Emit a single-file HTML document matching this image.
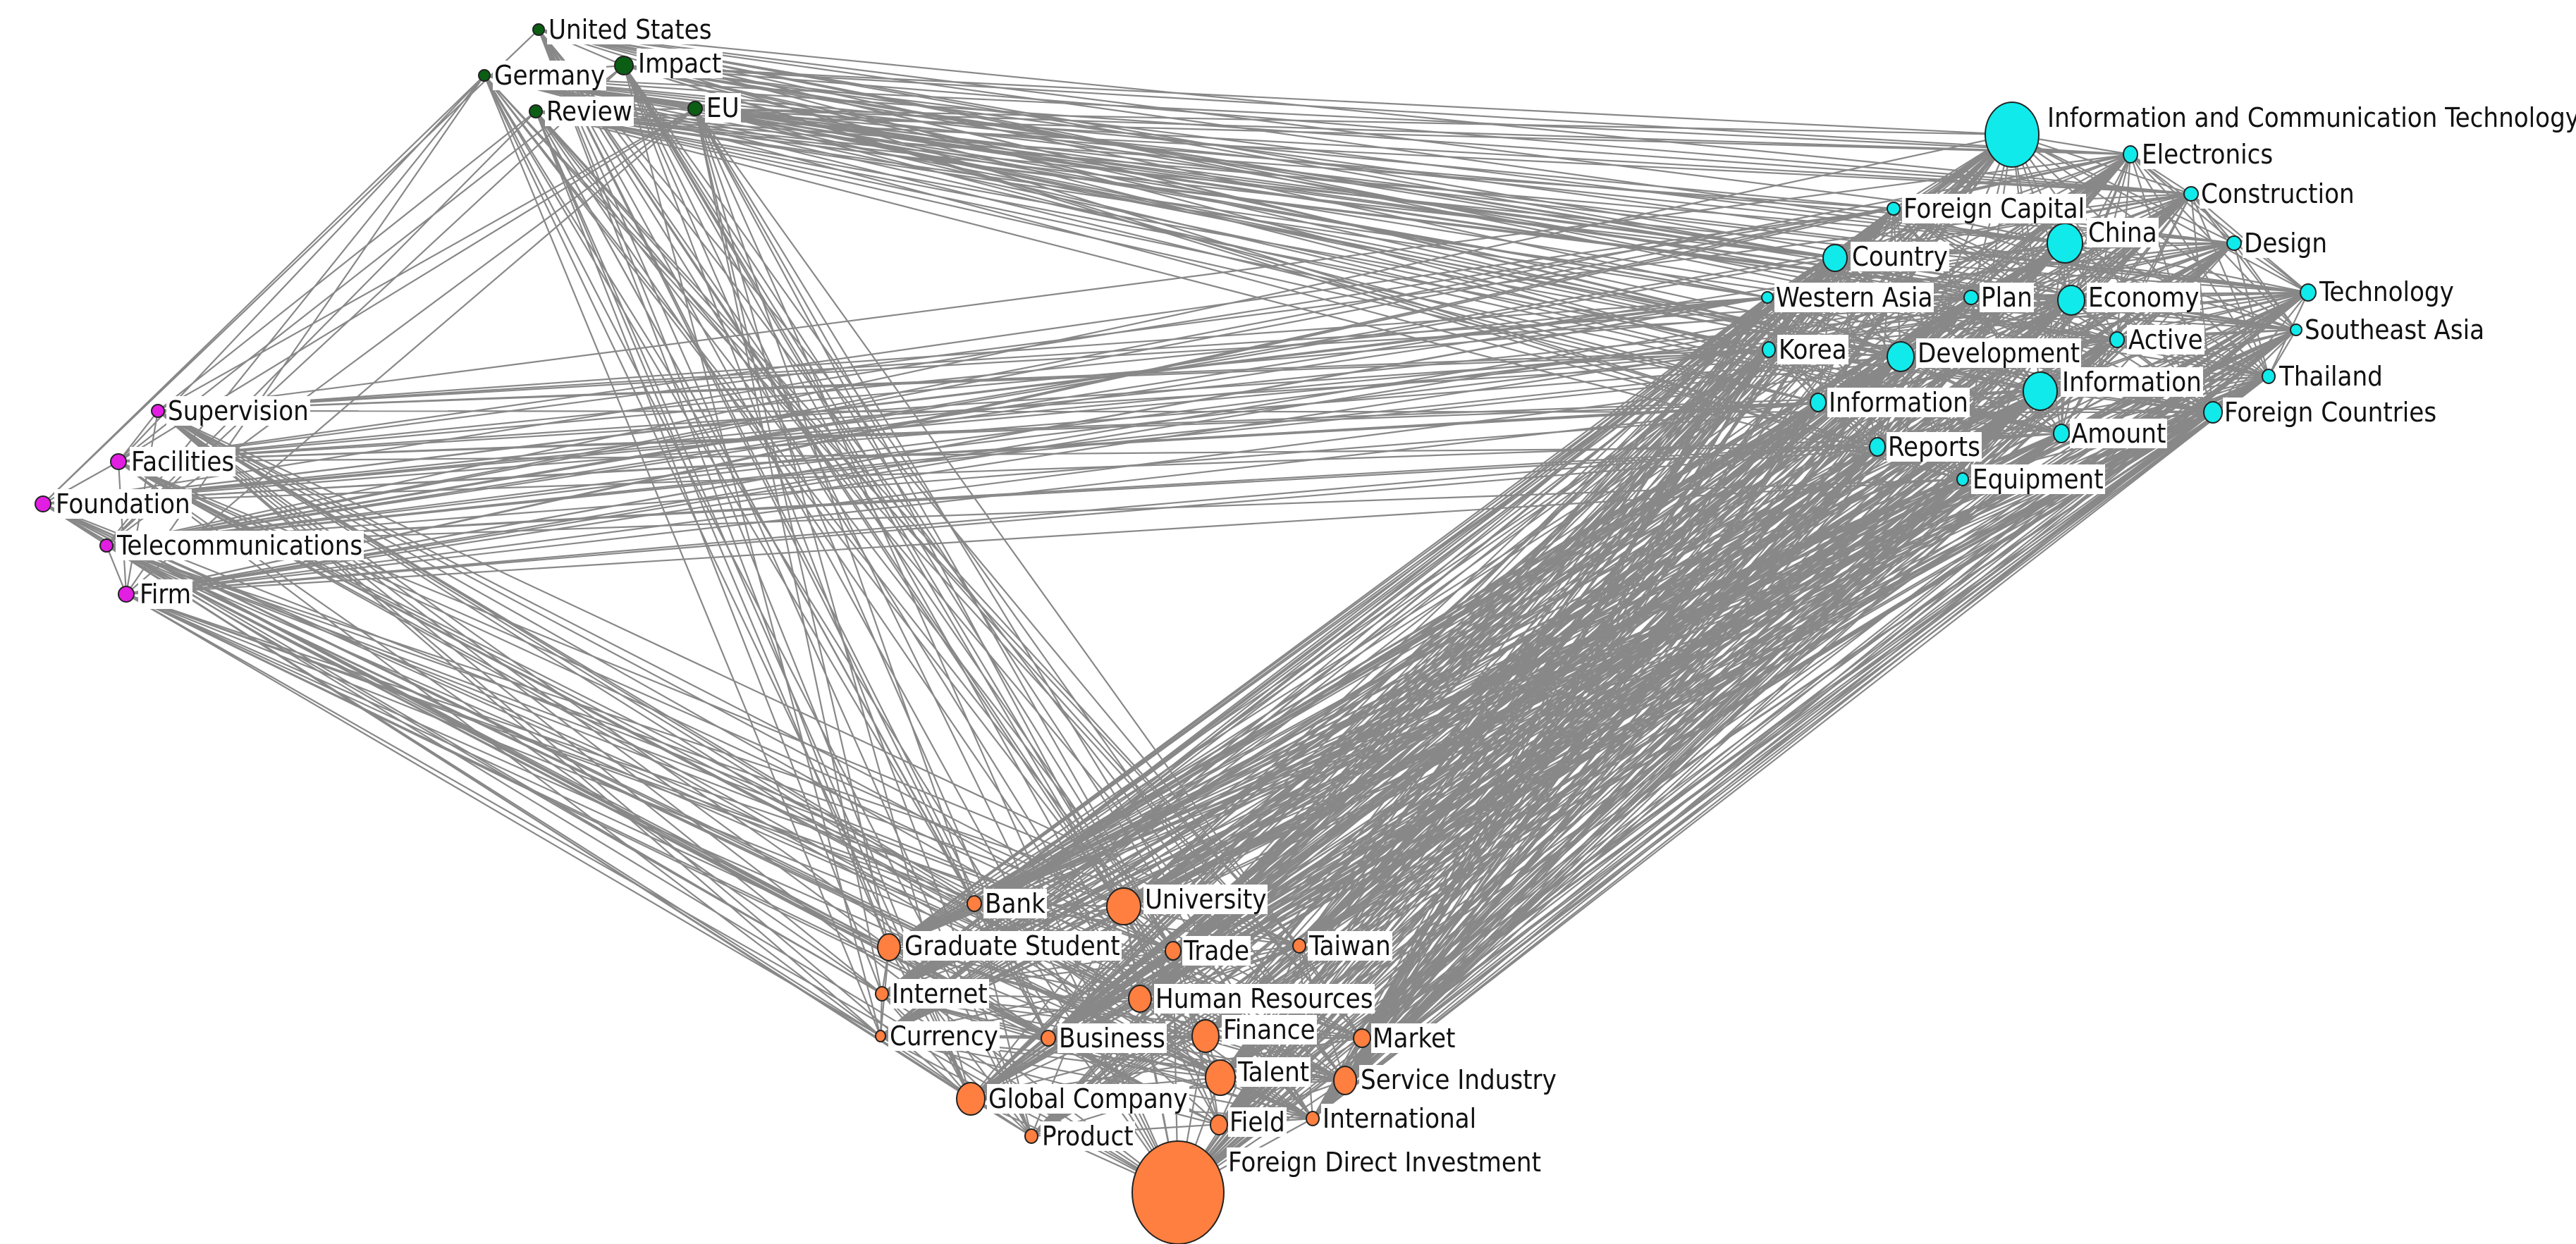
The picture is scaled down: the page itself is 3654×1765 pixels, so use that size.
<!DOCTYPE html>
<html><head><meta charset="utf-8">
<style>
html,body{margin:0;padding:0;background:#fff;}
#wrap{position:relative;width:3654px;height:1765px;overflow:hidden;background:#fff;}
svg{position:absolute;left:0;top:0;}
.l{position:absolute;font-family:"DejaVu Sans Condensed","DejaVu Sans","Liberation Sans",sans-serif;font-stretch:condensed;font-size:38px;line-height:42px;background:#fff;color:#111;padding:0 2px;white-space:nowrap;}
</style></head><body>
<div id="wrap">
<svg id="s" width="3654" height="1765" viewBox="0 0 3654 1765"><g id="e" stroke="#888" stroke-width="2.2" fill="none"></g><g id="n" stroke="#222" stroke-width="2"></g></svg>
<div id="labels">
<div class="l" style="left:776px;top:21px">United States</div>
<div class="l" style="left:699px;top:86px">Germany</div>
<div class="l" style="left:903px;top:69px">Impact</div>
<div class="l" style="left:773px;top:137px">Review</div>
<div class="l" style="left:1000px;top:132px">EU</div>
<div class="l" style="left:236px;top:562px">Supervision</div>
<div class="l" style="left:184px;top:634px">Facilities</div>
<div class="l" style="left:77px;top:694px">Foundation</div>
<div class="l" style="left:164px;top:753px">Telecommunications</div>
<div class="l" style="left:196px;top:822px">Firm</div>
<div class="l" style="left:2902px;top:146px">Information and Communication Technology</div>
<div class="l" style="left:3036px;top:198px">Electronics</div>
<div class="l" style="left:3120px;top:254px">Construction</div>
<div class="l" style="left:2698px;top:275px">Foreign Capital</div>
<div class="l" style="left:2960px;top:309px">China</div>
<div class="l" style="left:3181px;top:324px">Design</div>
<div class="l" style="left:2625px;top:343px">Country</div>
<div class="l" style="left:2517px;top:401px">Western Asia</div>
<div class="l" style="left:2808px;top:401px">Plan</div>
<div class="l" style="left:2960px;top:401px">Economy</div>
<div class="l" style="left:3288px;top:393px">Technology</div>
<div class="l" style="left:3267px;top:447px">Southeast Asia</div>
<div class="l" style="left:3017px;top:461px">Active</div>
<div class="l" style="left:2521px;top:475px">Korea</div>
<div class="l" style="left:2718px;top:480px">Development</div>
<div class="l" style="left:3231px;top:513px">Thailand</div>
<div class="l" style="left:2923px;top:521px">Information</div>
<div class="l" style="left:2592px;top:550px">Information</div>
<div class="l" style="left:3153px;top:564px">Foreign Countries</div>
<div class="l" style="left:2936px;top:594px">Amount</div>
<div class="l" style="left:2676px;top:613px">Reports</div>
<div class="l" style="left:2796px;top:659px">Equipment</div>
<div class="l" style="left:1395px;top:1261px">Bank</div>
<div class="l" style="left:1622px;top:1255px">University</div>
<div class="l" style="left:1281px;top:1321px">Graduate Student</div>
<div class="l" style="left:1677px;top:1328px">Trade</div>
<div class="l" style="left:1855px;top:1321px">Taiwan</div>
<div class="l" style="left:1263px;top:1389px">Internet</div>
<div class="l" style="left:1637px;top:1396px">Human Resources</div>
<div class="l" style="left:1260px;top:1449px">Currency</div>
<div class="l" style="left:1500px;top:1452px">Business</div>
<div class="l" style="left:1733px;top:1440px">Finance</div>
<div class="l" style="left:1945px;top:1452px">Market</div>
<div class="l" style="left:1754px;top:1500px">Talent</div>
<div class="l" style="left:1928px;top:1511px">Service Industry</div>
<div class="l" style="left:1400px;top:1538px">Global Company</div>
<div class="l" style="left:1742px;top:1571px">Field</div>
<div class="l" style="left:1874px;top:1566px">International</div>
<div class="l" style="left:1476px;top:1591px">Product</div>
<div class="l" style="left:1740px;top:1628px">Foreign Direct Investment</div>
</div>
</div>
<script>
var N=[
[0,764,42,8,8],[0,687,107,8,8],[0,885,93,13,13],[0,760,158,9,9],[0,986,154,10,10],
[1,224,583,9,9],[1,168,655,11,11],[1,61,715,11,11],[1,151,774,9,9],[1,179,843,11,11],
[2,2854,191,38,46],[2,3022,219,10,12],[2,3108,275,10,10],[2,2686,296,9,9],[2,2929,345,25,28],
[2,3169,345,10,10],[2,2603,366,17,19],[2,2507,422,8,8],[2,2796,422,10,10],[2,2938,426,19,21],
[2,3274,415,11,12],[2,3257,468,8,8],[2,3003,482,10,11],[2,2509,496,9,11],[2,2696,506,19,21],
[2,3218,534,9,10],[2,2894,555,24,27],[2,2579,571,11,13],[2,3139,585,13,15],[2,2924,615,11,13],
[2,2663,634,11,13],[2,2784,680,8,9],
[3,1382,1282,10,11],[3,1594,1286,24,26],[3,1261,1344,16,19],[3,1664,1349,11,13],[3,1843,1342,9,10],
[3,1251,1410,9,10],[3,1617,1417,16,19],[3,1249,1470,7,8],[3,1487,1473,10,11],[3,1710,1470,19,23],
[3,1932,1473,12,13],[3,1731,1529,21,25],[3,1908,1533,16,20],[3,1377,1559,20,23],[3,1729,1596,12,14],
[3,1862,1587,9,10],[3,1463,1612,9,10],[3,1671,1692,65,73]];
var col=["#0b5e14","#e21ee2","#10eaea","#ff7f40"];
var seed=12345;function rnd(){seed=(seed*1103515245+12345)%2147483648;return seed/2147483648;}
var P=[[0.5,0.6,0.6,0.6],[0.6,0.5,0.5,0.6],[0.6,0.5,0.85,1.0],[0.6,0.6,1.0,0.75]];
var e=document.getElementById('e'),n=document.getElementById('n'),h='';
for(var i=0;i<N.length;i++)for(var j=i+1;j<N.length;j++){
 var a=N[i],b=N[j];if(rnd()<P[a[0]][b[0]])h+='<line x1="'+a[1]+'" y1="'+a[2]+'" x2="'+b[1]+'" y2="'+b[2]+'"/>';}
e.innerHTML=h;h='';
for(var i=0;i<N.length;i++){var a=N[i];h+='<ellipse cx="'+a[1]+'" cy="'+a[2]+'" rx="'+a[3]+'" ry="'+a[4]+'" fill="'+col[a[0]]+'"/>';}
n.innerHTML=h;
</script>
</body></html>
